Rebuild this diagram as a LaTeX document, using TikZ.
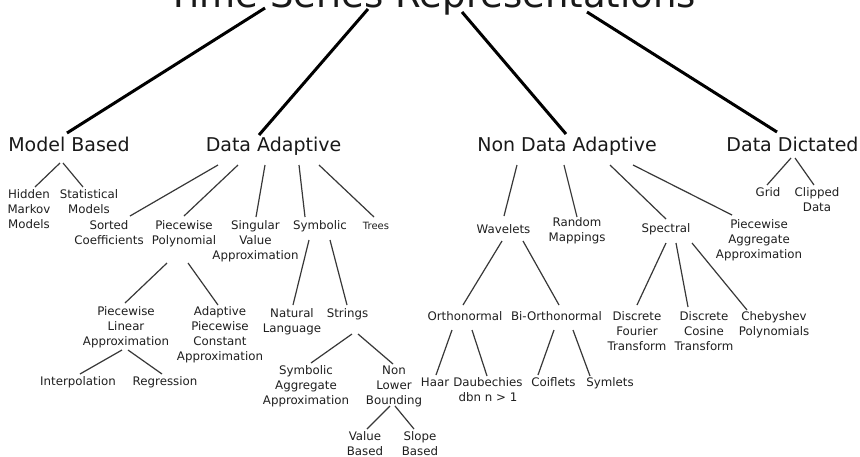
\documentclass[tikz,border=0pt]{standalone}
\usepackage{fontspec}
\setmainfont{DejaVu Sans}
\tikzset{
  lbl/.style={inner sep=0pt, outer sep=0pt, align=center, anchor=north, text=black!88,
    font=\fontsize{11.8}{15}\selectfont},
  smalllbl/.style={lbl, font=\fontsize{10}{12.5}\selectfont},
  headlbl/.style={inner sep=0pt, outer sep=0pt, anchor=base, text=black!90,
    font=\fontsize{19}{23}\selectfont},
  titlelbl/.style={inner sep=0pt, outer sep=0pt, anchor=base, text=black!90,
    font=\fontsize{37}{44}\selectfont},
  mainconn/.style={line width=3pt, draw=black},
  subconn/.style={line width=1.2pt, draw=black!78},
}
\begin{document}
\begin{tikzpicture}[x=1pt, y=1pt]
\useasboundingbox (0,0) rectangle (860,-456);
\clip (0,0) rectangle (860,-456);
\fill[white] (0,0) rectangle (860,-456);

% title and level 1
\node[titlelbl] (T) at (432,-7) {Time Series Representations};
\node[headlbl] (MB) at (69,-151) {Model Based};
\node[headlbl] (DA) at (273.5,-151) {Data Adaptive};
\node[headlbl] (NDA) at (567,-151) {Non Data Adaptive};
\node[headlbl] (DD) at (792.5,-151) {Data Dictated};

% level 2
\node[lbl] (HMM) at (29,-190) {Hidden\\Markov\\Models};
\node[lbl] (SM) at (89,-190) {Statistical\\Models};
\node[lbl] (SC) at (109,-221) {Sorted\\Coefficients};
\node[lbl] (PP) at (184,-221) {Piecewise\\Polynomial};
\node[lbl] (SVA) at (255.5,-221) {Singular\\Value\\Approximation};
\node[lbl] (SYM) at (320,-221) {Symbolic};
\node[smalllbl] (TR) at (376,-222) {Trees};
\node[lbl] (WAV) at (503.5,-225) {Wavelets};
\node[lbl] (RM) at (577,-218) {Random\\Mappings};
\node[lbl] (SPE) at (666,-224) {Spectral};
\node[lbl] (PAA) at (759,-220) {Piecewise\\Aggregate\\Approximation};
\node[lbl] (GR) at (768,-188) {Grid};
\node[lbl] (CD) at (817,-188) {Clipped\\Data};

% level 3+
\node[lbl] (PLA) at (126,-307) {Piecewise\\Linear\\Approximation};
\node[lbl] (APCA) at (220,-307) {Adaptive\\Piecewise\\Constant\\Approximation};
\node[lbl] (INT) at (78,-377) {Interpolation};
\node[lbl] (REG) at (165,-377) {Regression};
\node[lbl] (NL) at (292,-309) {Natural\\Language};
\node[lbl] (STR) at (347.5,-309) {Strings};
\node[lbl] (SAX) at (306,-366) {Symbolic\\Aggregate\\Approximation};
\node[lbl] (NLB) at (394,-366) {Non\\Lower\\Bounding};
\node[lbl] (VB) at (365,-432) {Value\\Based};
\node[lbl] (SB) at (420,-432) {Slope\\Based};
\node[lbl] (ORT) at (465,-312) {Orthonormal};
\node[lbl] (BIO) at (556.5,-312) {Bi-Orthonormal};
\node[lbl] (HAAR) at (435,-378) {Haar};
\node[lbl] (DAU) at (488,-378) {Daubechies\\dbn n > 1};
\node[lbl] (COI) at (553.5,-378) {Coiflets};
\node[lbl] (SYL) at (610,-378) {Symlets};
\node[lbl] (DFT) at (637,-312) {Discrete\\Fourier\\Transform};
\node[lbl] (DCT) at (704,-312) {Discrete\\Cosine\\Transform};
\node[lbl] (CHE) at (774,-312) {Chebyshev\\Polynomials};

% title connectors
\draw[mainconn] ([shift={(-167,-1)}]T.base) -- ([shift={(-2,18)}]MB.base);
\draw[mainconn] ([shift={(-64,-2)}]T.base) -- ([shift={(-14.5,16)}]DA.base);
\draw[mainconn] ([shift={(30,-5)}]T.base) -- ([shift={(-1,17)}]NDA.base);
\draw[mainconn] ([shift={(155,-5)}]T.base) -- ([shift={(-15.5,19)}]DD.base);

% Model Based
\draw[subconn] ([shift={(-9,-12)}]MB.base) -- ([shift={(6,3)}]HMM.north);
\draw[subconn] ([shift={(-6,-12)}]MB.base) -- ([shift={(-6,3)}]SM.north);
% Data Adaptive
\draw[subconn] ([shift={(-55.5,-14)}]DA.base) -- ([shift={(21,5)}]SC.north);
\draw[subconn] ([shift={(-35.5,-14)}]DA.base) -- ([shift={(0,5)}]PP.north);
\draw[subconn] ([shift={(-8.5,-14)}]DA.base) -- ([shift={(0.5,4)}]SVA.north);
\draw[subconn] ([shift={(25.5,-14)}]DA.base) -- ([shift={(-15,4)}]SYM.north);
\draw[subconn] ([shift={(45.5,-14)}]DA.base) -- ([shift={(-2,5)}]TR.north);
% Non Data Adaptive
\draw[subconn] ([shift={(-50,-14)}]NDA.base) -- ([shift={(0.5,9)}]WAV.north);
\draw[subconn] ([shift={(-3,-14)}]NDA.base) -- ([shift={(0,1)}]RM.north);
\draw[subconn] ([shift={(43,-14)}]NDA.base) -- ([shift={(0,5)}]SPE.north);
\draw[subconn] ([shift={(66,-14)}]NDA.base) -- ([shift={(-27,5)}]PAA.north);
% Data Dictated
\draw[subconn] ([shift={(-1.5,-7)}]DD.base) -- ([shift={(-1,3)}]GR.north);
\draw[subconn] ([shift={(2.5,-7)}]DD.base) -- ([shift={(-3,3)}]CD.north);
% Piecewise Polynomial
\draw[subconn] ([shift={(-17,-42)}]PP.north) -- ([shift={(-1,4)}]PLA.north);
\draw[subconn] ([shift={(4,-42)}]PP.north) -- ([shift={(-2,2)}]APCA.north);
\draw[subconn] ([shift={(-4,-43)}]PLA.north) -- ([shift={(2,3)}]INT.north);
\draw[subconn] ([shift={(2,-43)}]PLA.north) -- ([shift={(-3,3)}]REG.north);
% Symbolic
\draw[subconn] ([shift={(-11,-19)}]SYM.north) -- ([shift={(1,4)}]NL.north);
\draw[subconn] ([shift={(10,-19)}]SYM.north) -- ([shift={(-0.5,4)}]STR.north);
\draw[subconn] ([shift={(4.5,-25)}]STR.north) -- ([shift={(5,3)}]SAX.north);
\draw[subconn] ([shift={(10.5,-25)}]STR.north) -- ([shift={(-1,2)}]NLB.north);
\draw[subconn] ([shift={(-4,-40)}]NLB.north) -- ([shift={(2,3)}]VB.north);
\draw[subconn] ([shift={(1,-40)}]NLB.north) -- ([shift={(-6,3)}]SB.north);
% Wavelets
\draw[subconn] ([shift={(-1.5,-16)}]WAV.north) -- ([shift={(-2,7)}]ORT.north);
\draw[subconn] ([shift={(19.5,-16)}]WAV.north) -- ([shift={(2.5,7)}]BIO.north);
\draw[subconn] ([shift={(-13,-18)}]ORT.north) -- ([shift={(1,3)}]HAAR.north);
\draw[subconn] ([shift={(7,-18)}]ORT.north) -- ([shift={(-1,2)}]DAU.north);
\draw[subconn] ([shift={(-2.5,-18)}]BIO.north) -- ([shift={(-15.5,3)}]COI.north);
\draw[subconn] ([shift={(16.5,-18)}]BIO.north) -- ([shift={(-20,2)}]SYL.north);
% Spectral
\draw[subconn] ([shift={(0,-19)}]SPE.north) -- ([shift={(0,7)}]DFT.north);
\draw[subconn] ([shift={(10,-19)}]SPE.north) -- ([shift={(-16,5)}]DCT.north);
\draw[subconn] ([shift={(26,-19)}]SPE.north) -- ([shift={(-27,2)}]CHE.north);
\end{tikzpicture}
\end{document}
